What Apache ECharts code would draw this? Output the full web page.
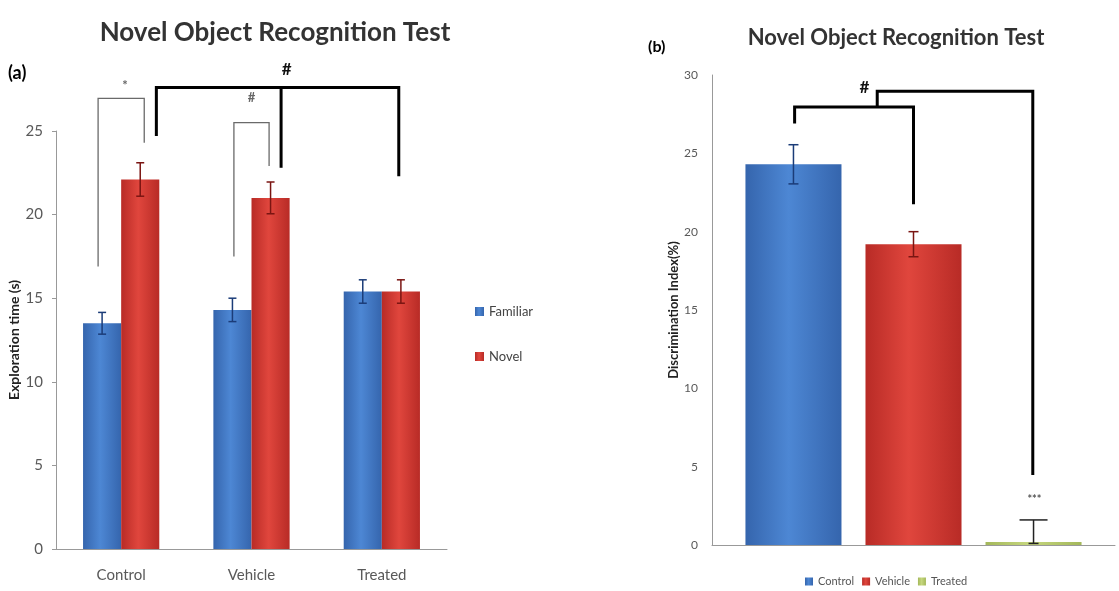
<!DOCTYPE html>
<html>
<head>
<meta charset="utf-8">
<script src="https://cdn.jsdelivr.net/npm/echarts@6/dist/echarts.min.js"></script>
<style>html,body{margin:0;padding:0;background:#fff;}#c{width:1119px;height:591px;}</style>
</head>
<body>
<div id="c"></div>
<script>
// ---------- Data: panel (a) ----------
const categoriesA = ['Control', 'Vehicle', 'Treated'];
const familiarValues = [13.5, 14.3, 15.4];
const familiarErrors = [0.65, 0.7, 0.7];
const novelValues = [22.1, 21.0, 15.4];
const novelErrors = [1.0, 0.95, 0.7];
const yTicksA = [0, 5, 10, 15, 20, 25];

// ---------- Data: panel (b) ----------
const groupsB = ['Control', 'Vehicle', 'Treated'];
const indexValues = [24.3, 19.2, 0.1];
const indexErrLow = [1.25, 0.8, 0];
const indexErrHigh = [1.25, 0.8, 1.5];
const yTicksB = [0, 5, 10, 15, 20, 25, 30];

// significance brackets: points [categoryIndex, offsetInBand, value]
const bracketsA = [
  { w: 1.3, c: '#6a6a6a', pts: [[0, -0.177, 16.9], [0, -0.177, 26.95], [0, 0.177, 26.95], [0, 0.177, 24.3]] },
  { w: 1.3, c: '#6a6a6a', pts: [[1, -0.135, 17.5], [1, -0.135, 25.5], [1, 0.135, 25.5], [1, 0.135, 22.9]] },
  { w: 3, c: '#000', pts: [[0, 0.27, 24.7], [0, 0.27, 27.6], [2, 0.13, 27.6], [2, 0.13, 22.3]] },
  { w: 3, c: '#000', pts: [[1, 0.227, 27.6], [1, 0.227, 22.8]] }
];
const marksA = [
  { t: '*', cat: 0, dx: 0.03, v: 27.7, size: 13, c: '#666' },
  { t: '#', cat: 1, dx: 0.27, v: 28.7, size: 17, c: '#111' },
  { t: '#', cat: 1, dx: 0.0, v: 27.0, size: 13, c: '#666' }
];
const bracketsB = [
  { w: 3, c: '#000', pts: [[0, -0.295, 26.9], [0, -0.295, 27.95], [0, 0.0, 27.95], [0, 0.0, 21.75]] },
  { w: 3, c: '#000', pts: [[0, -0.09, 27.95], [0, -0.09, 28.97], [0, 0.296, 28.97], [0, 0.296, 4.47]] }
];
const marksB = [
  { t: '#', cat: 0, dx: -0.122, v: 29.2, size: 17, c: '#111' },
  { t: '***', cat: 0, dx: 0.3, v: 2.9, size: 11, c: '#555' }
];

const gapA = 0.415;
const gapB = 0.166, barGapB = 0.25;

function grad(edge, mid) {
  return new echarts.graphic.LinearGradient(0, 0, 1, 0, [
    { offset: 0, color: edge }, { offset: 0.45, color: mid }, { offset: 1, color: edge }
  ]);
}
const blue = grad('#3565ad', '#4d87d4');
const red = grad('#b82b26', '#e0463d');
const green = grad('#a4b85a', '#c6d77e');

function bracketRender(list) {
  return function (params, api) {
    const b = list[params.dataIndex];
    const band = api.size([1, 0])[0];
    const pts = b.pts.map(p => { const c = api.coord([p[0], p[2]]); return [c[0] + p[1] * band, c[1]]; });
    return { type: 'polyline', shape: { points: pts }, style: { stroke: b.c, lineWidth: b.w, fill: null } };
  };
}
function markRender(list) {
  return function (params, api) {
    const m = list[params.dataIndex];
    const band = api.size([1, 0])[0];
    const c = api.coord([m.cat, m.v]);
    return { type: 'text', style: { text: m.t, x: c[0] + m.dx * band, y: c[1], align: 'center', verticalAlign: 'middle',
      font: 'bold ' + m.size + 'px Lato, sans-serif', fill: m.c } };
  };
}
function errRenderA(params, api) {
  const cat = api.value(0), lo = api.value(1), hi = api.value(2), s = api.value(3);
  const band = api.size([1, 0])[0];
  const barW = band * (1 - gapA) / 2;
  const base = api.coord([cat, lo]);
  const top = api.coord([cat, hi]);
  const x = base[0] + (s === 0 ? -barW / 2 : barW / 2);
  const col = s === 0 ? '#1b3c78' : '#7a1512';
  const cap = 4;
  const st = { stroke: col, lineWidth: 1.5 };
  return { type: 'group', children: [
    { type: 'line', shape: { x1: x, y1: base[1], x2: x, y2: top[1] }, style: st },
    { type: 'line', shape: { x1: x - cap, y1: base[1], x2: x + cap, y2: base[1] }, style: st },
    { type: 'line', shape: { x1: x - cap, y1: top[1], x2: x + cap, y2: top[1] }, style: st }
  ] };
}
function errRenderB(params, api) {
  const cat = api.value(0), lo = api.value(1), hi = api.value(2), s = api.value(3);
  const band = api.size([1, 0])[0];
  const barW = band * (1 - gapB) / (3 + 2 * barGapB);
  const base = api.coord([cat, lo]);
  const top = api.coord([cat, hi]);
  const x = base[0] + (s - 1) * barW * (1 + barGapB);
  const col = ['#1b3c78', '#7a1512', '#222'][s];
  const cap = s === 2 ? 14 : 5;
  const st = { stroke: col, lineWidth: 1.5 };
  return { type: 'group', children: [
    { type: 'line', shape: { x1: x, y1: base[1], x2: x, y2: top[1] }, style: st },
    { type: 'line', shape: { x1: x - 5, y1: base[1], x2: x + 5, y2: base[1] }, style: st },
    { type: 'line', shape: { x1: x - cap, y1: top[1], x2: x + cap, y2: top[1] }, style: st }
  ] };
}

const errDataA = [];
categoriesA.forEach((c, i) => {
  errDataA.push([i, familiarValues[i] - familiarErrors[i], familiarValues[i] + familiarErrors[i], 0]);
  errDataA.push([i, novelValues[i] - novelErrors[i], novelValues[i] + novelErrors[i], 1]);
});
const errDataB = groupsB.map((g, i) => [0, indexValues[i] - indexErrLow[i], indexValues[i] + indexErrHigh[i], i]);

const axisLbl = { color: '#595959', fontFamily: 'Lato, sans-serif' };
const chart = echarts.init(document.getElementById('c'));
chart.setOption({
  animation: false,
  backgroundColor: '#fff',
  title: [
    { text: 'Novel Object Recognition Test', left: 270, top: 15, textAlign: 'center',
      textStyle: { fontFamily: 'Lato, sans-serif', fontSize: 26, fontWeight: 'bold', color: '#333' } },
    { text: 'Novel Object Recognition Test', left: 891, top: 22, textAlign: 'center',
      textStyle: { fontFamily: 'Lato, sans-serif', fontSize: 22, fontWeight: 'bold', color: '#333' } }
  ],
  graphic: [
    { type: 'text', left: 8, top: 64, style: { text: '(a)', font: 'bold 18px Lato, sans-serif', fill: '#000' } },
    { type: 'text', left: 648, top: 39, style: { text: '(b)', font: 'bold 16px Lato, sans-serif', fill: '#000' } }
  ],
  legend: [
    { data: ['Familiar', 'Novel'], orient: 'vertical', left: 470, top: 300, itemWidth: 9, itemHeight: 9,
      itemGap: 32, icon: 'rect', textStyle: { color: '#444', fontSize: 13, fontFamily: 'Lato, sans-serif' } },
    { data: ['Control', 'Vehicle', 'Treated'], left: 800, top: 571, itemWidth: 8, itemHeight: 8,
      itemGap: 8, icon: 'rect', textStyle: { color: '#555', fontSize: 11, fontFamily: 'Lato, sans-serif' } }
  ],
  grid: [
    { left: 56, width: 391, top: 131, height: 418 },
    { left: 712, width: 403, top: 75, height: 470 }
  ],
  xAxis: [
    { type: 'category', gridIndex: 0, data: categoriesA,
      axisLine: { lineStyle: { color: '#999' } }, axisTick: { length: 5, lineStyle: { color: '#999' } },
      axisLabel: Object.assign({ fontSize: 15, margin: 19 }, axisLbl) },
    { type: 'category', gridIndex: 1, data: [''],
      axisLine: { lineStyle: { color: '#999' } }, axisTick: { show: false }, axisLabel: { show: false } }
  ],
  yAxis: [
    { type: 'value', gridIndex: 0, min: yTicksA[0], max: yTicksA[yTicksA.length - 1], interval: 5,
      name: 'Exploration time (s)', nameLocation: 'middle', nameGap: 30,
      nameTextStyle: { fontFamily: 'Lato, sans-serif', fontWeight: 'bold', fontSize: 14, color: '#222' },
      axisLine: { show: true, lineStyle: { color: '#999' } }, axisTick: { show: true, length: 4, lineStyle: { color: '#999' } },
      splitLine: { show: false }, axisLabel: Object.assign({ fontSize: 15, margin: 13 }, axisLbl) },
    { type: 'value', gridIndex: 1, min: yTicksB[0], max: yTicksB[yTicksB.length - 1], interval: 5,
      name: 'Discrimination Index(%)', nameLocation: 'middle', nameGap: 30,
      nameTextStyle: { fontFamily: 'Lato, sans-serif', fontWeight: 'bold', fontSize: 13, color: '#222' },
      axisLine: { show: true, lineStyle: { color: '#999' } }, axisTick: { show: false },
      splitLine: { show: false }, axisLabel: Object.assign({ fontSize: 12, margin: 14 }, axisLbl) }
  ],
  series: [
    { name: 'Familiar', type: 'bar', xAxisIndex: 0, yAxisIndex: 0, data: familiarValues,
      barGap: '0%', barCategoryGap: (gapA * 100) + '%', itemStyle: { color: blue } },
    { name: 'Novel', type: 'bar', xAxisIndex: 0, yAxisIndex: 0, data: novelValues,
      barGap: '0%', barCategoryGap: (gapA * 100) + '%', itemStyle: { color: red } },
    { type: 'custom', xAxisIndex: 0, yAxisIndex: 0, data: errDataA, renderItem: errRenderA, z: 5, silent: true },
    { type: 'custom', xAxisIndex: 0, yAxisIndex: 0, data: bracketsA.map((b, i) => [0, 0, i]), renderItem: bracketRender(bracketsA), clip: false, z: 6, silent: true },
    { type: 'custom', xAxisIndex: 0, yAxisIndex: 0, data: marksA.map((m, i) => [0, 0, i]), renderItem: markRender(marksA), clip: false, z: 6, silent: true },

    { name: 'Control', type: 'bar', xAxisIndex: 1, yAxisIndex: 1, data: [indexValues[0]],
      barGap: (barGapB * 100) + '%', barCategoryGap: (gapB * 100) + '%', itemStyle: { color: blue } },
    { name: 'Vehicle', type: 'bar', xAxisIndex: 1, yAxisIndex: 1, data: [indexValues[1]],
      barGap: (barGapB * 100) + '%', barCategoryGap: (gapB * 100) + '%', itemStyle: { color: red } },
    { name: 'Treated', type: 'bar', xAxisIndex: 1, yAxisIndex: 1, data: [indexValues[2]],
      barGap: (barGapB * 100) + '%', barCategoryGap: (gapB * 100) + '%', barMinHeight: 3, itemStyle: { color: green } },
    { type: 'custom', xAxisIndex: 1, yAxisIndex: 1, data: errDataB, renderItem: errRenderB, z: 5, silent: true },
    { type: 'custom', xAxisIndex: 1, yAxisIndex: 1, data: bracketsB.map((b, i) => [0, 0, i]), renderItem: bracketRender(bracketsB), clip: false, z: 6, silent: true },
    { type: 'custom', xAxisIndex: 1, yAxisIndex: 1, data: marksB.map((m, i) => [0, 0, i]), renderItem: markRender(marksB), clip: false, z: 6, silent: true }
  ]
});
</script>
</body>
</html>
